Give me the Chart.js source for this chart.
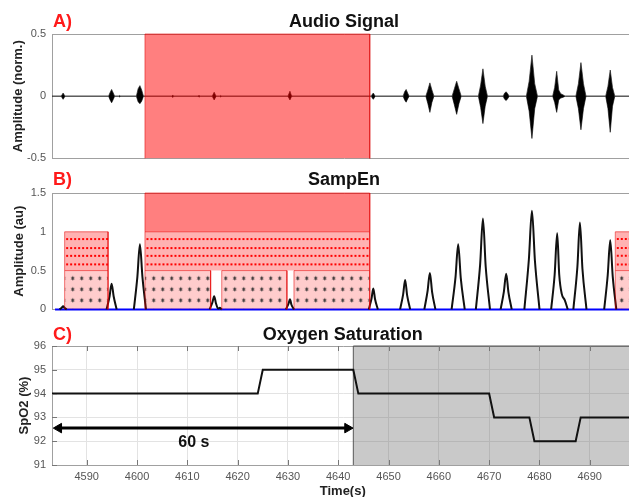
<!DOCTYPE html>
<html>
<head>
<meta charset="utf-8">
<script src="https://cdn.jsdelivr.net/npm/chart.js@4.4.0/dist/chart.umd.min.js"></script>
<style>
  html, body { margin: 0; padding: 0; background: #fff; overflow: hidden; }
  #wrap { position: relative; width: 629px; height: 497px; overflow: hidden; }
  .panel { position: absolute; left: 0; width: 640px; }
  .panel canvas { display: block; }
</style>
</head>
<body>
<div id="wrap">
  <div class="panel" style="top:0"><canvas id="audio" width="640" height="171"></canvas></div>
  <div class="panel" style="top:168px"><canvas id="sampen" width="640" height="154"></canvas></div>
  <div class="panel" style="top:318px"><canvas id="spo2" width="640" height="184"></canvas></div>
</div>
<script>
const FONT = '"Liberation Sans", Arial, Helvetica, sans-serif';
const TICK = '#555555';
const AXIS = '#a0a0a0';
const GRID = '#e3e3e3';

// shared time axis (s)
const timeRange = [4583.1, 4698.7];
const timeTicks = [4590, 4600, 4610, 4620, 4630, 4640, 4650, 4660, 4670, 4680, 4690];

// A) audio signal envelope (upper / lower), normalised amplitude
const audioTicks = [-0.5, 0, 0.5];
const audioTime = [
  4583.1,
  4584.9, 4585.1, 4585.3, 4585.5, 4585.7,
  4594.3, 4594.6, 4594.9, 4595.2, 4595.5,
  4596.3, 4596.5, 4596.7,
  4599.8, 4600.15, 4600.5, 4600.85, 4601.2,
  4606.8, 4607.0, 4607.2,
  4612.0, 4612.2, 4612.4,
  4614.8, 4615.0, 4615.2, 4615.4, 4615.6,
  4616.3, 4616.5, 4616.7,
  4629.8, 4630.0, 4630.2, 4630.4, 4630.6,
  4646.3, 4646.5, 4646.7, 4646.9, 4647.1,
  4652.6, 4652.9, 4653.2, 4653.5, 4653.8,
  4657.1, 4657.5, 4657.9, 4658.3, 4658.7,
  4662.3, 4662.75, 4663.2, 4663.65, 4664.1,
  4667.5, 4667.95, 4668.4, 4668.85, 4669.3,
  4672.4, 4672.7, 4673.0, 4673.3, 4673.6,
  4677.0, 4677.55, 4678.1, 4678.65, 4679.2,
  4682.2, 4682.6, 4683.0, 4683.4, 4683.8, 4684.3, 4684.7,
  4686.8, 4687.3, 4687.8, 4688.3, 4688.8,
  4692.7, 4693.15, 4693.6, 4694.05, 4694.5,
  4698.7
];
const audioUpper = [
  0,
  0, 0.012, 0.025, 0.012, 0,
  0, 0.03, 0.054, 0.028, 0,
  0, 0.006, 0,
  0, 0.06, 0.085, 0.05, 0,
  0, 0.01, 0,
  0, 0.008, 0,
  0, 0.015, 0.032, 0.015, 0,
  0, 0.006, 0,
  0, 0.02, 0.04, 0.015, 0,
  0, 0.015, 0.025, 0.012, 0,
  0, 0.035, 0.054, 0.025, 0,
  0, 0.05, 0.107, 0.05, 0,
  0, 0.06, 0.12, 0.06, 0,
  0, 0.09, 0.22, 0.08, 0,
  0, 0.025, 0.035, 0.02, 0,
  0, 0.12, 0.33, 0.1, 0,
  0, 0.07, 0.2, 0.05, 0.02, 0.01, 0,
  0, 0.1, 0.27, 0.1, 0,
  0, 0.08, 0.21, 0.07, 0,
  0
];
const audioLower = [
  0,
  0, -0.012, -0.025, -0.012, 0,
  0, -0.03, -0.053, -0.028, 0,
  0, -0.006, 0,
  0, -0.045, -0.06, -0.04, 0,
  0, -0.01, 0,
  0, -0.008, 0,
  0, -0.015, -0.03, -0.015, 0,
  0, -0.006, 0,
  0, -0.015, -0.03, -0.012, 0,
  0, -0.015, -0.025, -0.012, 0,
  0, -0.03, -0.048, -0.022, 0,
  0, -0.06, -0.13, -0.05, 0,
  0, -0.07, -0.146, -0.06, 0,
  0, -0.09, -0.22, -0.08, 0,
  0, -0.025, -0.035, -0.02, 0,
  0, -0.12, -0.34, -0.1, 0,
  0, -0.05, -0.13, -0.03, -0.015, -0.008, 0,
  0, -0.1, -0.27, -0.1, 0,
  0, -0.1, -0.29, -0.08, 0,
  0
];
const apneaSpan = [4601.5, 4646.0];

// B) SampEn (au); null = gap between peaks
const sampTicks = [0, 0.5, 1, 1.5];
const sampTime = [
  4584.6, 4585.02, 4585.3, 4585.58, 4586.0, 4586.0,
  4593.9, 4594.5, 4594.9, 4595.3, 4595.9, 4595.9,
  4599.3, 4600.0, 4600.5, 4601.0, 4601.7, 4601.7,
  4614.3, 4614.85, 4615.2, 4615.55, 4616.0, 4616.3, 4616.7, 4616.7,
  4629.4, 4629.9, 4630.2, 4630.5, 4631.0, 4631.0,
  4645.8, 4646.35, 4646.7, 4647.05, 4647.6, 4647.6,
  4652.0, 4652.6, 4653.0, 4653.4, 4654.0, 4654.0,
  4656.8, 4657.45, 4657.9, 4658.35, 4659.0, 4659.0,
  4662.2, 4662.98, 4663.5, 4664.02, 4664.8, 4664.8,
  4667.0, 4667.85, 4668.4, 4668.95, 4669.8, 4669.8,
  4671.9, 4672.55, 4673.0, 4673.45, 4674.1, 4674.1,
  4676.6, 4677.5, 4678.1, 4678.7, 4679.6, 4679.6,
  4681.9, 4682.6, 4683.1, 4683.5, 4684.0, 4684.6, 4685.2, 4685.2,
  4686.3, 4687.1, 4687.6, 4688.1, 4688.9, 4688.9,
  4692.4, 4693.1, 4693.6, 4694.1, 4694.8
];
const sampValue = [
  0, 0.02, 0.04, 0.02, 0, null,
  0, 0.17, 0.33, 0.17, 0, null,
  0, 0.42, 0.84, 0.42, 0, null,
  0, 0.09, 0.17, 0.08, 0.01, 0.02, 0, null,
  0, 0.07, 0.13, 0.06, 0, null,
  0, 0.14, 0.27, 0.13, 0, null,
  0, 0.19, 0.38, 0.18, 0, null,
  0, 0.24, 0.47, 0.22, 0, null,
  0, 0.42, 0.84, 0.4, 0, null,
  0, 0.58, 1.17, 0.55, 0, null,
  0, 0.23, 0.46, 0.22, 0, null,
  0, 0.65, 1.27, 0.62, 0, null,
  0, 0.45, 0.98, 0.45, 0.2, 0.12, 0, null,
  0, 0.55, 1.12, 0.52, 0, null,
  0, 0.44, 0.89, 0.42, 0
];
const zeroSpan = [4583.7, 4698.7];
const upperBand = [1, 1.5];
const dotBand = [0.5, 1];
const starBand = [0, 0.5];
const upperBoxes = [[4601.5, 4646.0]];
const dotBoxes = [[4585.6, 4594.2], [4601.5, 4646.0], [4694.6, 4698.7]];
const starBoxes = [[4585.6, 4594.2], [4601.5, 4614.5], [4616.7, 4629.6], [4631.0, 4646.0], [4694.6, 4698.7]];
const dotRows = [0.906, 0.79, 0.69, 0.58];

// C) oxygen saturation (%)
const spo2Ticks = [91, 92, 93, 94, 95, 96];
const spo2Time = [4583.1, 4624, 4625, 4643, 4644, 4670, 4671, 4678, 4679, 4687.2, 4688.2, 4698.7];
const spo2Value = [94, 94, 95, 95, 94, 94, 93, 93, 92, 92, 93, 93];
const desatSpan = [4643, 4698.7];
const arrowSpan = [4584.45, 4641.85];
const arrowLevel = 92.55;
const arrowLabel = '60 s';
const arrowLabelAt = [4611.3, 91.95];

const pts = (xs, ys) => xs.map((x, i) => ({ x, y: ys[i] }));
const box = (x0, x1, y0, y1) => [{ x: x0, y: y0 }, { x: x0, y: y1 }, { x: x1, y: y1 }, { x: x1, y: y0 }];

// split a series at its null values
function segments(xs, ys) {
  const out = [];
  let cur = [];
  xs.forEach((x, i) => {
    if (ys[i] === null) { if (cur.length) out.push(cur); cur = []; }
    else cur.push({ x, y: ys[i] });
  });
  if (cur.length) out.push(cur);
  return out;
}

const panelTitle = {
  id: 'panelTitle',
  afterDraw(chart, args, o) {
    const { ctx, chartArea } = chart;
    const y = chartArea.top - o.gap;
    ctx.save();
    ctx.font = 'bold 18px ' + FONT;
    ctx.textBaseline = 'alphabetic';
    ctx.textAlign = 'left';
    ctx.fillStyle = '#ff1a1a';
    ctx.fillText(o.letter, 53, y);
    ctx.textAlign = 'center';
    ctx.fillStyle = '#111';
    ctx.fillText(o.text, (chartArea.left + chartArea.right) / 2, y);
    ctx.restore();
  }
};

// short inward tick marks, MATLAB style
const innerTicks = {
  id: 'innerTicks',
  afterDatasetsDraw(chart, args, o) {
    if (!o.on) return;
    const { ctx, chartArea: a, scales } = chart;
    ctx.save();
    ctx.strokeStyle = '#777';
    ctx.lineWidth = 1;
    ctx.beginPath();
    scales.x.ticks.forEach(t => {
      const x = Math.round(scales.x.getPixelForValue(t.value)) + 0.5;
      ctx.moveTo(x, a.bottom); ctx.lineTo(x, a.bottom - 5);
      ctx.moveTo(x, a.top); ctx.lineTo(x, a.top + 5);
    });
    scales.y.ticks.forEach(t => {
      const y = Math.round(scales.y.getPixelForValue(t.value)) + 0.5;
      ctx.moveTo(a.left, y); ctx.lineTo(a.left + 5, y);
    });
    ctx.stroke();
    ctx.restore();
  }
};

const arrowText = {
  id: 'arrowText',
  afterDatasetsDraw(chart) {
    const { ctx, scales } = chart;
    ctx.save();
    ctx.font = 'bold 16px ' + FONT;
    ctx.fillStyle = '#111';
    ctx.textAlign = 'center';
    ctx.textBaseline = 'middle';
    ctx.fillText(arrowLabel, scales.x.getPixelForValue(arrowLabelAt[0]), scales.y.getPixelForValue(arrowLabelAt[1]));
    ctx.restore();
  }
};

function options(cfg) {
  return {
    responsive: false,
    animation: false,
    events: [],
    layout: { padding: cfg.padding },
    plugins: {
      legend: { display: false },
      tooltip: { enabled: false },
      panelTitle: cfg.title,
      innerTicks: { on: !!cfg.showTime }
    },
    scales: {
      x: {
        type: 'linear',
        min: timeRange[0],
        max: timeRange[1],
        display: cfg.showTime,
        afterBuildTicks: s => { s.ticks = timeTicks.map(v => ({ value: v })); },
        afterFit: s => { if (cfg.showTime) s.height = 37; },
        ticks: { color: TICK, font: { family: FONT, size: 11 }, padding: 5, maxRotation: 0, autoSkip: false, callback: v => String(v) },
        grid: { drawTicks: false, color: GRID },
        border: { color: AXIS },
        title: { display: true, text: 'Time(s)', color: '#222', font: { family: FONT, size: 13, weight: 'bold' }, padding: { top: 0, bottom: 3 } }
      },
      y: {
        min: cfg.ticks[0],
        max: cfg.ticks[cfg.ticks.length - 1],
        afterBuildTicks: s => { s.ticks = cfg.ticks.map(v => ({ value: v })); },
        afterFit: s => { s.width = 52; },
        ticks: { color: TICK, font: { family: FONT, size: 11 }, padding: 6, callback: v => String(v) },
        grid: {
          drawTicks: false,
          color: c => {
            const v = c.tick.value;
            if (v === cfg.ticks[cfg.ticks.length - 1] || v === cfg.ticks[0]) return AXIS;
            return cfg.innerGrid ? GRID : 'rgba(0,0,0,0)';
          }
        },
        border: { color: AXIS },
        title: { display: true, text: cfg.yTitle, color: '#222', font: { family: FONT, size: 13, weight: 'bold' }, padding: { top: cfg.titlePad, bottom: 0 } }
      }
    }
  };
}

const line = (data, extra) => Object.assign({ data, showLine: true, pointRadius: 0, borderWidth: 1, tension: 0, clip: 3 }, extra);

// ---------- A) Audio signal ----------
new Chart(document.getElementById('audio'), {
  type: 'scatter',
  plugins: [panelTitle],
  data: {
    datasets: [
      line(box(apneaSpan[0], apneaSpan[1], audioTicks[0], audioTicks[2]), {
        order: 0, fill: { value: audioTicks[0] }, backgroundColor: 'rgba(255,0,0,0.5)', borderColor: 'rgba(220,0,0,0.55)'
      }),
      line(pts(audioTime, audioUpper), { order: 1, fill: '+1', backgroundColor: '#000', borderColor: '#222', borderWidth: 0.7 }),
      line(pts(audioTime, audioLower), { order: 2, borderColor: '#222', borderWidth: 0.7 })
    ]
  },
  options: options({
    padding: { top: 34, bottom: 7, left: 0, right: 4 },
    showTime: false,
    ticks: audioTicks,
    yTitle: 'Amplitude (norm.)',
    titlePad: 11,
    title: { letter: 'A)', text: 'Audio Signal', gap: 7 }
  })
});

// ---------- B) SampEn ----------
function starPattern() {
  const c = document.createElement('canvas');
  c.width = 9; c.height = 11;
  const g = c.getContext('2d');
  g.fillStyle = 'rgba(255,0,0,0.2)';
  g.fillRect(0, 0, 9, 11);
  g.strokeStyle = '#333';
  g.lineWidth = 1;
  g.beginPath();
  for (let k = 0; k < 3; k++) {
    const a = Math.PI / 2 + k * Math.PI / 3;
    g.moveTo(4.5 - 1.9 * Math.cos(a), 5.5 - 1.9 * Math.sin(a));
    g.lineTo(4.5 + 1.9 * Math.cos(a), 5.5 + 1.9 * Math.sin(a));
  }
  g.stroke();
  const p = g.createPattern(c, 'repeat');
  p.setTransform(new DOMMatrix().translate(5.2, 5.8));
  return p;
}
const stars = starPattern();
const sampSets = [];
upperBoxes.forEach(b => sampSets.push(line(box(b[0], b[1], upperBand[0], upperBand[1]), {
  order: 1, fill: { value: upperBand[0] }, backgroundColor: 'rgba(255,0,0,0.5)', borderColor: 'rgba(230,0,0,0.55)'
})));
dotBoxes.forEach(b => {
  sampSets.push(line(box(b[0], b[1], dotBand[0], dotBand[1]), {
    order: 1, fill: { value: dotBand[0] }, backgroundColor: 'rgba(255,0,0,0.3)', borderColor: 'rgba(230,0,0,0.55)'
  }));
  dotRows.forEach(r => sampSets.push(line([{ x: b[0] + 0.3, y: r }, { x: b[1], y: r }], {
    order: 0, borderColor: '#ff0000', borderWidth: 2, borderDash: [2, 2]
  })));
});
starBoxes.forEach(b => sampSets.push(line(box(b[0], b[1], starBand[0], starBand[1]), {
  order: 1, fill: { value: starBand[0] }, backgroundColor: stars, borderColor: 'rgba(230,0,0,0.55)'
})));
segments(sampTime, sampValue).forEach(seg => sampSets.push(line(seg, {
  order: 2, borderColor: '#111', borderWidth: 2, cubicInterpolationMode: 'monotone'
})));
sampSets.push(line([{ x: zeroSpan[0], y: 0 }, { x: zeroSpan[1], y: 0 }], {
  order: 3, borderColor: '#0000ff', borderWidth: 2
}));

new Chart(document.getElementById('sampen'), {
  type: 'scatter',
  plugins: [panelTitle],
  data: { datasets: sampSets },
  options: options({
    padding: { top: 25, bottom: 5, left: 0, right: 4 },
    showTime: false,
    ticks: sampTicks,
    yTitle: 'Amplitude (au)',
    titlePad: 12,
    title: { letter: 'B)', text: 'SampEn', gap: 8 }
  })
});

// ---------- C) Oxygen saturation ----------
new Chart(document.getElementById('spo2'), {
  type: 'scatter',
  plugins: [panelTitle, innerTicks, arrowText],
  data: {
    datasets: [
      line([{ x: arrowSpan[0], y: arrowLevel }, { x: arrowSpan[1], y: arrowLevel }], {
        order: 0, borderColor: '#000', borderWidth: 3,
        pointRadius: 5.5, pointStyle: 'triangle', pointRotation: [-90, 90],
        pointBackgroundColor: '#000', pointBorderColor: '#000', pointBorderWidth: 1
      }),
      line(pts(spo2Time, spo2Value), { order: 1, borderColor: '#111', borderWidth: 2 }),
      line(box(desatSpan[0], desatSpan[1], spo2Ticks[0], spo2Ticks[spo2Ticks.length - 1]), {
        order: 2, fill: { value: spo2Ticks[0] }, backgroundColor: 'rgba(100,100,100,0.35)', borderColor: '#555'
      })
    ]
  },
  options: options({
    padding: { top: 28, bottom: 0, left: 0, right: 4 },
    showTime: true,
    innerGrid: true,
    ticks: spo2Ticks,
    yTitle: 'SpO2 (%)',
    titlePad: 17,
    title: { letter: 'C)', text: 'Oxygen Saturation', gap: 6 }
  })
});
</script>
</body>
</html>
